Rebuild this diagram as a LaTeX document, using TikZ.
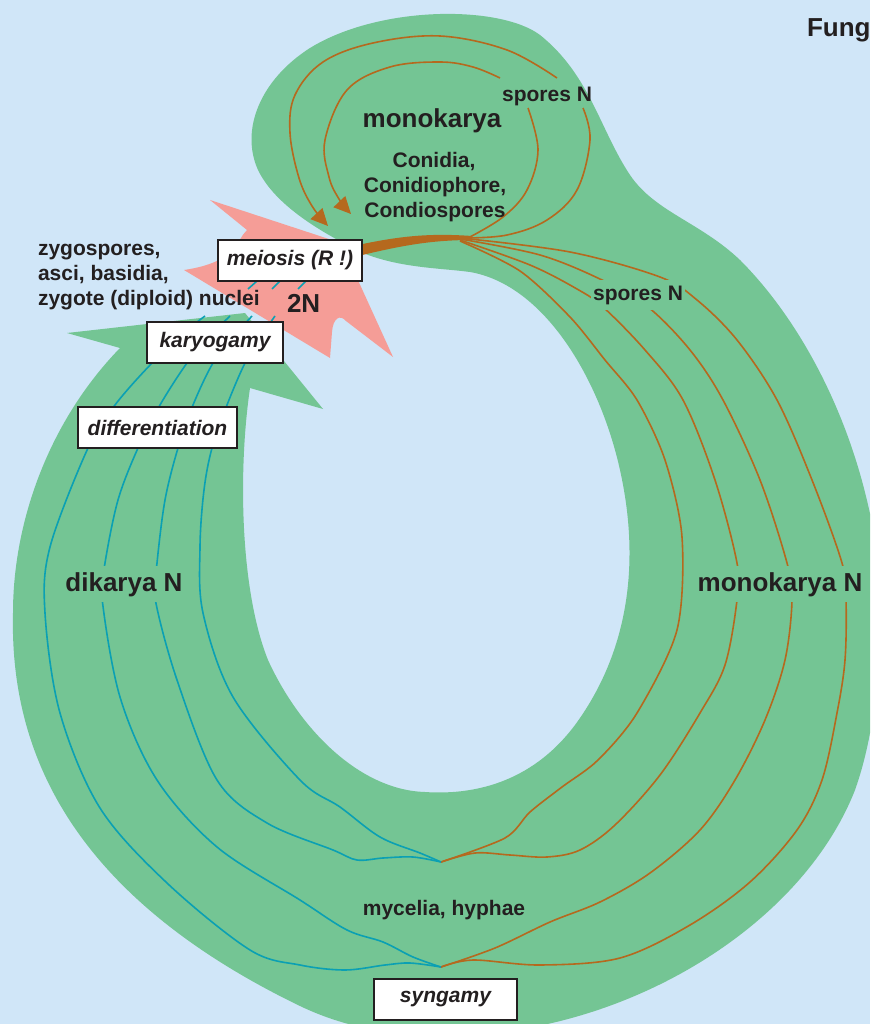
\documentclass[tikz,border=0pt]{standalone}
\usepackage{fontspec}
\setmainfont{Liberation Sans}
\usetikzlibrary{arrows.meta}
\definecolor{bgblue}{HTML}{D0E6F8}
\definecolor{band}{HTML}{74C594}
\definecolor{pinkred}{HTML}{F59D97}
\definecolor{orng}{HTML}{B5691E}
\definecolor{tealc}{HTML}{0BA0B3}
\definecolor{ink}{HTML}{231F20}
\begin{document}
\begin{tikzpicture}[x=1pt,y=-1pt,
  lbl/.style={font=\fontsize{21}{25}\selectfont\bfseries, text=ink, inner sep=0pt, outer sep=0pt},
  big/.style={font=\fontsize{26}{30}\selectfont\bfseries, text=ink, inner sep=0pt, outer sep=0pt},
  knock/.style={fill=band, inner xsep=2pt, inner ysep=6pt},
  stepbox/.style={draw=ink, line width=1.8pt, fill=white, font=\fontsize{21}{25}\selectfont\bfseries\itshape, text=ink, minimum height=41pt, inner sep=0pt},
  oline/.style={draw=orng, line width=1.6pt},
  tline/.style={draw=tealc, line width=1.6pt},
  tip/.style={-{Triangle[length=17pt,width=16pt]}}
  ]
\useasboundingbox (0,0) rectangle (870,1024);
\clip (0,0) rectangle (870,1024);
\fill[bgblue] (0,0) rectangle (870,1024);

% red 2N shape
\fill[pinkred] (210,200) -- (341,243) -- (393,357) -- (346,321)
  .. controls (340,314) and (333,318) .. (332,332) -- (330,358) -- (184,270)
  .. controls (238,262) and (236,240) .. (247,230) -- cycle;

% green band
\fill[band] (245,313) -- (323,409) -- (250,388)
  .. controls (238,470) and (240,590) .. (268,660)
  .. controls (300,730) and (360,790) .. (425,792)
  .. controls (470,795) and (530,785) .. (575,725)
  .. controls (630,650) and (640,560) .. (620,470)
  .. controls (600,380) and (545,285) .. (470,272)
  .. controls (440,268) and (400,268) .. (363,253)
  .. controls (320,232) and (275,205) .. (258,170)
  .. controls (240,130) and (260,80) .. (310,48)
  .. controls (380,5) and (500,5) .. (540,35)
  .. controls (590,75) and (600,130) .. (630,175)
  .. controls (655,212) and (700,222) .. (740,260)
  .. controls (800,320) and (855,420) .. (875,540)
  .. controls (885,620) and (880,720) .. (855,790)
  .. controls (800,930) and (620,1035) .. (450,1035)
  .. controls (400,1036) and (350,1030) .. (300,1006)
  .. controls (60,890) and (10,740) .. (13,613)
  .. controls (13,520) and (50,420) .. (120,348)
  -- (67,333) -- cycle;

% orange trunk
\fill[orng] (358,245) .. controls (400,236) and (430,233) .. (472,236) -- (472,240) .. controls (430,240) and (400,246) .. (358,256) -- cycle;

% orange loops in the head (broken at the label)
\draw[oline] plot[smooth,tension=0.6] coordinates {(465,238) (507,235) (547,220) (577,190) (590,140) (583,108)};
\draw[oline,tip] plot[smooth,tension=0.6] coordinates {(557,78) (507,50) (440,36) (373,43) (323,62) (295,95) (290,133) (299,178) (312,206) (328,226)};
\draw[oline] plot[smooth,tension=0.6] coordinates {(468,238) (503,217) (527,190) (538,150) (528,108)};
\draw[oline,tip] plot[smooth,tension=0.6] coordinates {(500,78) (473,67) (440,62) (390,67) (347,90) (325,140) (329,177) (339,199) (351,214)};

% orange lines on the right
\draw[oline] plot[smooth,tension=0.5] coordinates {(460,241) (520,271) (570,317) (605,360) (637,400) (665,460) (682,537) (677,630) (637,713) (598,760) (562,787) (530,812) (505,838) (441,862)};
\draw[oline] plot[smooth,tension=0.55] coordinates {(460,240) (530,265) (577,289) (603,307) (645,350) (683,400) (715,480) (737,563) (737,600) (725,665) (700,713) (660,775) (615,825) (580,850) (547,857) (510,855) (475,853) (441,862)};
\draw[oline] plot[smooth,tension=0.55] coordinates {(460,239) (540,255) (602,280) (648,307) (690,350) (723,400) (760,480) (787,563) (792,600) (785,660) (765,720) (735,780) (700,830) (650,873) (600,902) (550,922) (495,948) (441,967)};
\draw[oline] plot[smooth,tension=0.55] coordinates {(460,238) (570,252) (660,277) (697,300) (737,340) (777,400) (812,480) (842,563) (846,600) (845,660) (837,713) (822,780) (797,830) (750,882) (690,925) (620,958) (540,965) (473,960) (441,967)};

% teal lines on the left
\draw[tline] plot[smooth,tension=0.55] coordinates {(441,967) (410,963) (385,965) (345,970) (300,965) (250,950) (167,883) (100,808) (60,713) (45,613) (50,547) (88,448) (115,405) (152,363) (185,332) (205,316)};
\draw[tline] plot[smooth,tension=0.55] coordinates {(441,967) (413,957) (383,942) (347,930) (300,900) (217,847) (157,780) (120,697) (102,598) (105,563) (118,500) (138,448) (160,405) (187,363) (210,336) (230,316)};
\draw[tline] plot[smooth,tension=0.55] coordinates {(441,862) (413,857) (383,858) (357,860) (333,850) (267,823) (217,780) (177,680) (155,598) (157,563) (165,500) (178,448) (193,405) (213,363) (235,335) (252,316)};
\draw[tline] plot[smooth,tension=0.55] coordinates {(441,862) (420,853) (380,837) (340,807) (300,780) (233,697) (203,613) (200,547) (204,490) (212,448) (227,405) (245,363) (262,335) (275,316)};
\draw[tline] (248,289) -- (257,281);
\draw[tline] (272,289) -- (280,281);
\draw[tline] (298,289) -- (306,281);

% labels
\node[big, anchor=base west] (fung) at (807,37) {Fung};
\node[big, anchor=base] (mono) at (432,128) {monokarya};
\node[lbl, anchor=base] (sporesTop) at (547,102) {spores N};
\node[lbl, anchor=base] (con1) at (434,168) {Conidia,};
\node[lbl, anchor=base] (con2) at (435,193) {Conidiophore,};
\node[lbl, anchor=base] (con3) at (435,218) {Condiospores};
\node[lbl, anchor=base west] (zyg1) at (38,255) {zygospores,};
\node[lbl, anchor=base west] (zyg2) at (38,280) {asci, basidia,};
\node[lbl, anchor=base west] (zyg3) at (38,305) {zygote (diploid) nuclei};
\node[big, anchor=base west] (twoN) at (287,312) {2N};
\node[lbl, knock, anchor=base] (sporesR) at (638,300) {spores N};
\node[big, knock, anchor=base] (dik) at (124,591) {dikarya N};
\node[big, knock, anchor=base] (monoN) at (780,591) {monokarya N};
\node[lbl, anchor=base] (myc) at (444,915) {mycelia, hyphae};

% boxes
\node[stepbox, minimum width=144pt] (meiosis) at (290,260.5) {meiosis (R !)};
\node[stepbox, minimum width=136pt] (karyo) at (215,342.5) {karyogamy};
\node[stepbox, minimum width=159pt] (diff) at (157.5,427.5) {differentiation};
\node[stepbox, minimum width=143pt] (syn) at (445.5,999.5) {syngamy};
\end{tikzpicture}
\end{document}
